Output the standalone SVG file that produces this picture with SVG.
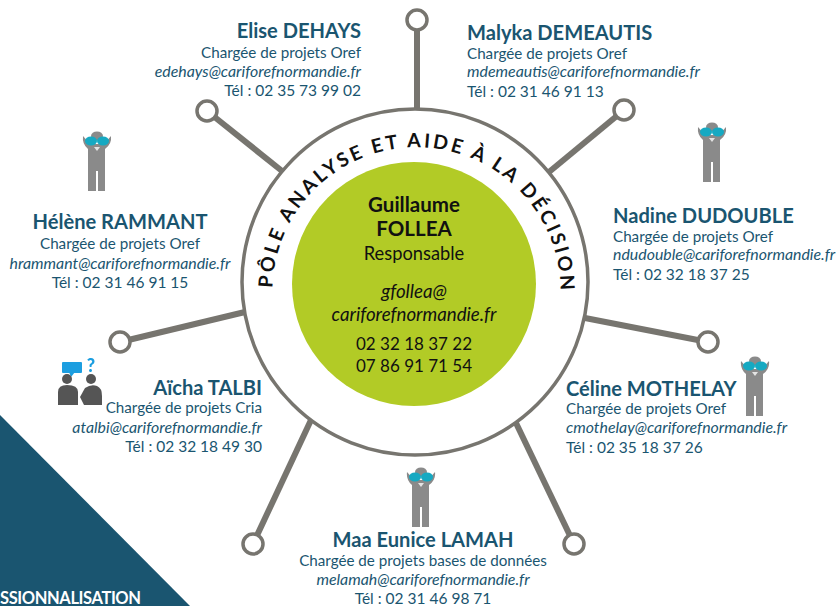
<svg xmlns="http://www.w3.org/2000/svg" xmlns:xlink="http://www.w3.org/1999/xlink" width="838" height="606" viewBox="0 0 838 606">
<style>
text{font-family:"Lato","Open Sans",sans-serif;fill:#1a5570}
.n{font-size:20.100px;font-weight:700}
.r{font-size:15.200px}
.m{font-size:15.900px;font-style:italic}
.t{font-size:15.500px}
.e{text-anchor:end}.c{text-anchor:middle}
.k text{fill:#111;text-anchor:middle}
.lnk line{stroke:#77756f;stroke-width:6}
.lnk circle{fill:#fff;stroke:#77756f;stroke-width:3.500}
</style>
<defs>
<path id="arc" d="M275 318A144 144 0 1 1 558 318"/>
<filter id="b" x="-20%" y="-20%" width="140%" height="140%"><feGaussianBlur stdDeviation="0.700"/></filter>
<g id="p" filter="url(#b)">
<ellipse cx="0" cy="-5" rx="6" ry="4.500" fill="#8a8a8a"/>
<path d="M-14-5Q-15 3-9 8V50H-1V30H1V50H8V8Q15 3 14-5L7 3H-7Z" fill="#8a8a8a"/>
<ellipse cx="-6" cy="0" rx="6" ry="4.500" fill="#14a9c2"/><ellipse cx="6" cy="0" rx="6" ry="4.500" fill="#14a9c2"/>
<path d="M-3 6L0 10 3 6Z" fill="#e4e4e4"/>
</g>
</defs>
<path d="M0 415L190 606H0Z" fill="#1a5570"/>
<text x="0" y="604" style="font-size:16.500px;font-weight:700;fill:#fff;letter-spacing:-.4px">SSIONNALISATION</text>
<g class="lnk" id="connectors">
<line x1="417" y1="20" x2="417" y2="109"/><circle cx="417" cy="20" r="10"/>
<line x1="207" y1="111" x2="282" y2="171"/><circle cx="207" cy="111" r="10"/>
<line x1="624" y1="110" x2="549" y2="172"/><circle cx="624" cy="110" r="10"/>
<line x1="708" y1="342" x2="585" y2="318"/><circle cx="708" cy="342" r="10"/>
<line x1="574" y1="544" x2="516" y2="423"/><circle cx="574" cy="544" r="10"/>
<line x1="253" y1="544" x2="311" y2="420"/><circle cx="253" cy="544" r="10"/>
<line x1="120" y1="342" x2="245" y2="312"/><circle cx="120" cy="342" r="10"/>
</g>
<g id="hub">
<circle cx="415" cy="282" r="173" fill="#fff" stroke="#77756f" stroke-width="3.500"/>
<circle cx="414" cy="284" r="122" fill="#b2cb26"/>
<text style="font-size:19.500px;font-weight:700;fill:#111;letter-spacing:2.800px"><textPath xlink:href="#arc" href="#arc" startOffset="50.500%" text-anchor="middle">PÔLE ANALYSE ET AIDE À LA DÉCISION</textPath></text>
</g>
<g id="center" class="k">
<text x="414" y="212" style="font-size:20.500px;font-weight:700">Guillaume</text>
<text x="414" y="236" style="font-size:20.500px;font-weight:700">FOLLEA</text>
<text x="414" y="260" style="font-size:18.300px">Responsable</text>
<text x="414" y="298" style="font-size:18.700px;font-style:italic">gfollea@</text>
<text x="414" y="321" style="font-size:18.700px;font-style:italic">cariforefnormandie.fr</text>
<text x="414" y="350" style="font-size:17px">02 32 18 37 22</text>
<text x="414" y="372" style="font-size:17px">07 86 91 71 54</text>
</g>
<g id="elise"><text x="361" y="38" class="n e">Elise DEHAYS</text><text x="361" y="58" class="r e">Chargée de projets Oref</text><text x="361" y="77" class="m e">edehays@cariforefnormandie.fr</text><text x="361" y="96" class="t e">Tél : 02 35 73 99 02</text></g>
<g id="malyka"><text x="467" y="40" class="n">Malyka DEMEAUTIS</text><text x="467" y="59" class="r">Chargée de projets Oref</text><text x="467" y="77" class="m">mdemeautis@cariforefnormandie.fr</text><text x="467" y="97" class="t">Tél : 02 31 46 91 13</text></g>
<g id="nadine"><text x="613" y="223" class="n">Nadine DUDOUBLE</text><text x="613" y="242" class="r">Chargée de projets Oref</text><text x="613" y="260" class="m">ndudouble@cariforefnormandie.fr</text><text x="613" y="280" class="t">Tél : 02 32 18 37 25</text></g>
<g id="celine"><text x="566" y="396" class="n">Céline MOTHELAY</text><text x="566" y="414" class="r">Chargée de projets Oref</text><text x="566" y="433" class="m">cmothelay@cariforefnormandie.fr</text><text x="566" y="453" class="t">Tél : 02 35 18 37 26</text></g>
<g id="maa"><text x="423" y="547" class="n c">Maa Eunice LAMAH</text><text x="423" y="566" class="r c">Chargée de projets bases de données</text><text x="423" y="585" class="m c">melamah@cariforefnormandie.fr</text><text x="423" y="604" class="t c">Tél : 02 31 46 98 71</text></g>
<g id="aicha"><text x="262" y="395" class="n e">Aïcha TALBI</text><text x="262" y="413" class="r e">Chargée de projets Cria</text><text x="262" y="433" class="m e">atalbi@cariforefnormandie.fr</text><text x="262" y="452" class="t e">Tél : 02 32 18 49 30</text></g>
<g id="helene"><text x="120" y="229" class="n c">Hélène RAMMANT</text><text x="120" y="249" class="r c">Chargée de projets Oref</text><text x="120" y="269" class="m c">hrammant@cariforefnormandie.fr</text><text x="120" y="288" class="t c">Tél : 02 31 46 91 15</text></g>
<use href="#p" x="97" y="141"/>
<use href="#p" x="712" y="132"/>
<use href="#p" x="755" y="366"/>
<use href="#p" x="421" y="477"/>
<g id="icon-aicha" filter="url(#b)">
<rect x="62" y="362" width="20" height="11" rx="1" fill="#1b9ee0"/><path d="M69 372l2 5 4-5Z" fill="#1b9ee0"/>
<text x="91" y="372" style="font-size:18px;font-weight:900;fill:#1b9ee0" class="c">?</text>
<g fill="#555"><circle cx="67" cy="379" r="5"/><path d="M58 405V392Q58 385 67 385Q78 385 78 392V405Z"/><circle cx="91" cy="379" r="5"/><path d="M84 405L80 397 85 388Q91 384 97 386Q102 388 102 396V405Z"/></g>
</g>
</svg>
